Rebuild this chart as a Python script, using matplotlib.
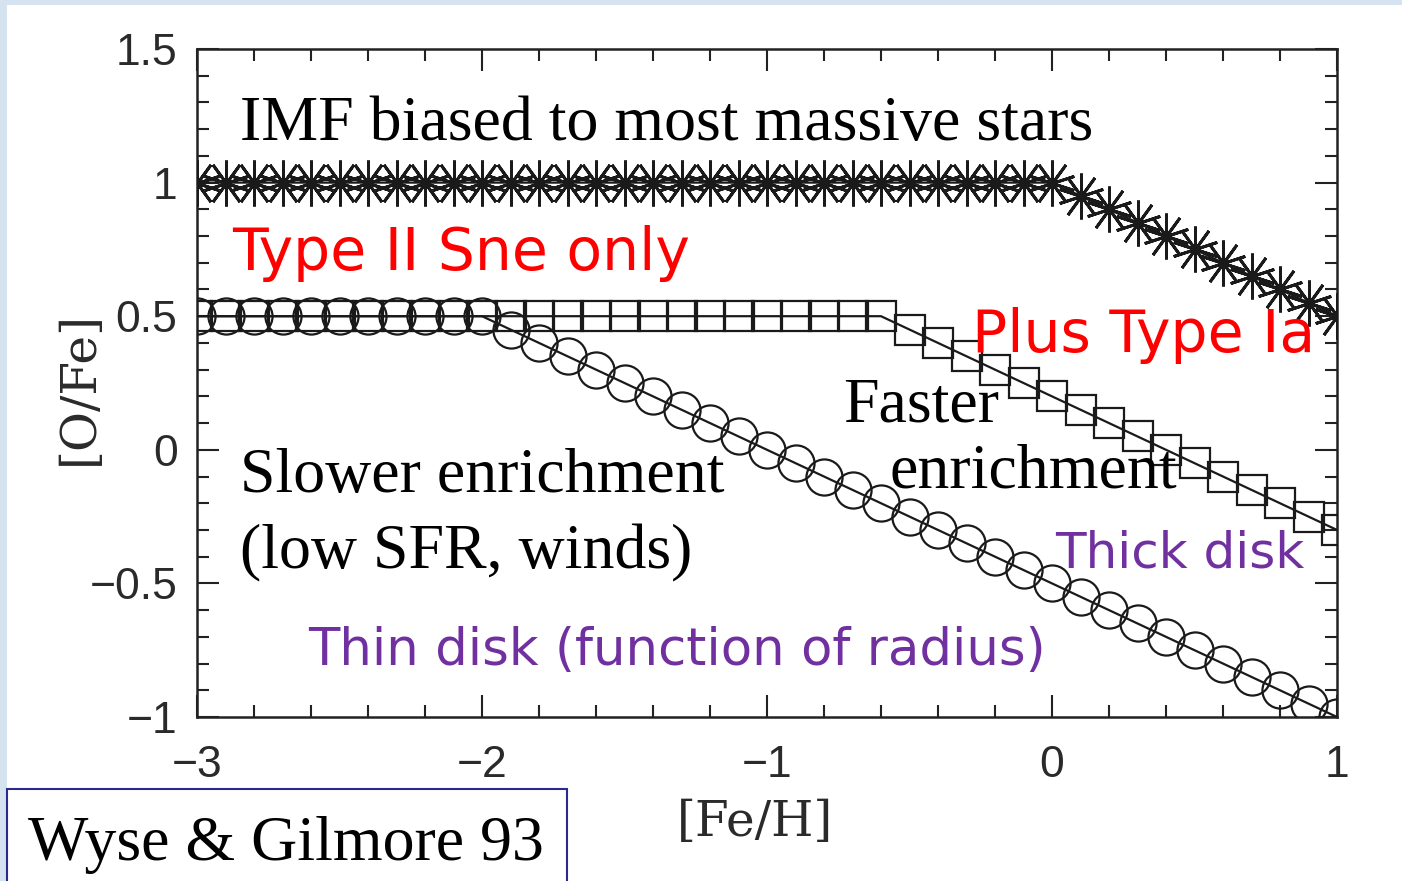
import matplotlib
matplotlib.use("Agg")
import matplotlib.pyplot as plt
from matplotlib.patches import Rectangle
from matplotlib.ticker import MultipleLocator

# [Fe/H] grid shared by the three model tracks
feh = [-3.0, -2.9, -2.8, -2.7, -2.6, -2.5, -2.4, -2.3, -2.2, -2.1,
       -2.0, -1.9, -1.8, -1.7, -1.6, -1.5, -1.4, -1.3, -1.2, -1.1,
       -1.0, -0.9, -0.8, -0.7, -0.6, -0.5, -0.4, -0.3, -0.2, -0.1,
       0.0, 0.1, 0.2, 0.3, 0.4, 0.5, 0.6, 0.7, 0.8, 0.9, 1.0]

# IMF biased to most massive stars
ofe_massive = [1.0] * 31 + [0.95, 0.90, 0.85, 0.80, 0.75, 0.70, 0.65, 0.60, 0.55, 0.50]

# Faster enrichment (thick disk)
ofe_fast = [0.5] * 25 + [0.45, 0.40, 0.35, 0.30, 0.25, 0.20, 0.15, 0.10, 0.05, 0.0,
                         -0.05, -0.10, -0.15, -0.20, -0.25, -0.30]

# Slower enrichment (thin disk)
ofe_slow = [0.5] * 11 + [0.45, 0.40, 0.35, 0.30, 0.25, 0.20, 0.15, 0.10, 0.05, 0.0,
                         -0.05, -0.10, -0.15, -0.20, -0.25, -0.30, -0.35, -0.40, -0.45, -0.50,
                         -0.55, -0.60, -0.65, -0.70, -0.75, -0.80, -0.85, -0.90, -0.95, -1.00]

xticks = [-3, -2, -1, 0, 1]
xtick_labels = ["\u22123", "\u22122", "\u22121", "0", "1"]
yticks = [-1, -0.5, 0, 0.5, 1, 1.5]
ytick_labels = ["\u22121", "\u22120.5", "0", "0.5", "1", "1.5"]

W, H = 1402, 881
fig = plt.figure(figsize=(W / 100, H / 100), dpi=100, facecolor="#d5e3f1")

# white slide area
fig.patches.append(Rectangle((7 / W, 0), 1 - 7 / W, 1 - 5 / H, transform=fig.transFigure,
                             facecolor="white", edgecolor="none", zorder=-5))

ax = fig.add_axes([197 / W, 1 - 717 / H, (1337 - 197) / W, (717 - 49) / H])
ax.set_facecolor("white")

ink = "#1a1a1a"
lw = 1.6
ax.plot(feh, ofe_massive, color=ink, lw=lw, marker=(10, 2, 0), markersize=33,
        markeredgewidth=2.1, markeredgecolor=ink, zorder=3)
ax.plot(feh, ofe_fast, color=ink, lw=lw, marker="s", markersize=21,
        markeredgewidth=1.6, markerfacecolor="none", markeredgecolor=ink, zorder=3)
ax.plot(feh, ofe_slow, color=ink, lw=lw, marker="o", markersize=26,
        markeredgewidth=1.6, markerfacecolor="none", markeredgecolor=ink, zorder=4)

ax.set_xlim(-3, 1)
ax.set_ylim(-1, 1.5)
ax.set_xticks(xticks)
ax.set_xticklabels(xtick_labels)
ax.set_yticks(yticks)
ax.set_yticklabels(ytick_labels)
ax.xaxis.set_minor_locator(MultipleLocator(0.2))
ax.yaxis.set_minor_locator(MultipleLocator(0.1))
ax.tick_params(which="both", direction="in", top=True, right=True, width=1.5,
               color="#222222")
ax.tick_params(which="major", length=16)
ax.tick_params(which="minor", length=8.5)
ax.tick_params(axis="x", which="major", pad=20)
ax.tick_params(axis="y", which="major", pad=14)
for lab in ax.get_xticklabels() + ax.get_yticklabels():
    lab.set_fontfamily("Liberation Sans")
    lab.set_fontsize(32)
    lab.set_color("#2a2a2a")
for sp in ax.spines.values():
    sp.set_linewidth(1.8)
    sp.set_color("#222222")

fig.text(755 / W, 1 - 822 / H, "[Fe/H]", fontfamily="DejaVu Serif", fontsize=35,
         ha="center", va="center", color="#2a2a2a")
fig.text(79 / W, 1 - 388 / H, "[O/Fe]", fontfamily="DejaVu Serif", fontsize=35,
         ha="center", va="center", rotation=90, color="#2a2a2a")


def ftext(x, y, s, **kw):
    fig.text(x / W, 1 - y / H, s, ha="left", va="baseline", **kw)


serif = dict(fontfamily="Liberation Serif", fontsize=46, color="black")
red = dict(fontfamily="DejaVu Sans", fontsize=42, color="#ff0000")
purple = "#7030a0"

ftext(240, 140, "IMF biased to most massive stars", **serif)
ftext(232, 270, "Type II Sne only", **red)
ftext(972, 352, "Plus Type Ia", **red)
ftext(843, 422, "Faster", **serif)
ftext(890, 488, "enrichment", **serif)
ftext(240, 492, "Slower enrichment", **serif)
ftext(240, 568, "(low SFR, winds)", **serif)
ftext(1055, 568, "Thick disk", fontfamily="DejaVu Sans", fontsize=36, color=purple)
ftext(308, 665, "Thin disk (function of radius)", fontfamily="DejaVu Sans", fontsize=37,
      color=purple)

# citation box
fig.patches.append(Rectangle((7 / W, -0.05), (567 - 7) / W, 0.05 + 1 - 789 / H,
                             transform=fig.transFigure, facecolor="white",
                             edgecolor="#2a2a8c", linewidth=1.5, zorder=5))
ftext(28, 860, "Wyse & Gilmore 93", zorder=6, **serif)

fig.savefig("out.png", dpi=100, facecolor=fig.get_facecolor())
